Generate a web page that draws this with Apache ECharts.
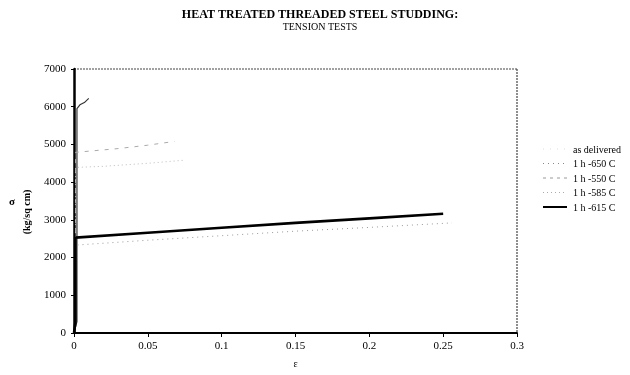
<!DOCTYPE html>
<html>
<head>
<meta charset="utf-8">
<script src="https://cdn.jsdelivr.net/npm/echarts@6/dist/echarts.min.js"></script>
<style>
  html, body { margin: 0; padding: 0; background: #fff; }
  #chart { width: 630px; height: 375px; }
</style>
</head>
<body>
<div id="chart"></div>
<script>
// strain / stress data
const seriesNames = ['as delivered', '1 h -650 C', '1 h -550 C', '1 h -585 C', '1 h -615 C']
const asDelivered = [[0, 0], [0.002, 300], [0.002, 5950], [0.004, 6050], [0.007, 6110], [0.010, 6220]]
const h650 = [[0, 0], [0.001, 300], [0.001, 2330], [0.05, 2460], [0.1, 2580], [0.15, 2700], [0.2, 2800], [0.256, 2920]]
const h550 = [[0, 0], [0.001, 300], [0.001, 4790], [0.03, 4890], [0.05, 4980], [0.068, 5080]]
const h585 = [[0, 0], [0.001, 300], [0.001, 4390], [0.02, 4420], [0.05, 4500], [0.074, 4580]]
const h615 = [[0, 0], [0.001, 300], [0.001, 2530], [0.05, 2660], [0.1, 2790], [0.15, 2920], [0.2, 3040], [0.25, 3160]]

const chart = echarts.init(document.getElementById('chart'))
const serif = 'Liberation Serif'

const lineStyles = [
  { color: '#333', width: 1.2, type: 'solid' },
  { color: '#999', width: 1, type: [1, 4] },
  { color: '#aaa', width: 1, type: [4, 6] },
  { color: '#bbb', width: 1, type: [1, 3] },
  { color: '#000', width: 2.6, type: 'solid' }
]
const legendStyles = [
  { color: '#ddd', width: 1, type: [1, 6] },
  { color: '#888', width: 1, type: [1, 4] },
  { color: '#999', width: 1, type: [3, 4] },
  { color: '#aaa', width: 1, type: [1, 3] },
  { color: '#000', width: 2, type: 'solid' }
]
const datasets = [asDelivered, h650, h550, h585, h615]

// legend samples drawn in the style of each series
const legendLines = seriesNames.map((n, i) => ({
  type: 'line',
  shape: { x1: 543, y1: 149 + i * 14.5, x2: 567, y2: 149 + i * 14.5 },
  style: {
    stroke: legendStyles[i].color,
    lineWidth: legendStyles[i].width,
    lineDash: legendStyles[i].type === 'solid' ? null : legendStyles[i].type
  }
}))

chart.setOption({
  animation: false,
  title: {
    text: 'HEAT TREATED THREADED STEEL STUDDING:',
    subtext: 'TENSION TESTS',
    left: 315,
    textAlign: 'center',
    top: 4,
    itemGap: 1,
    textStyle: { fontFamily: serif, fontWeight: 'bold', fontSize: 12, color: '#000' },
    subtextStyle: { fontFamily: serif, fontSize: 10, color: '#000' }
  },
  legend: {
    orient: 'vertical',
    left: 543,
    top: 140,
    itemGap: 4.5,
    itemWidth: 20,
    itemHeight: 10,
    textStyle: { fontFamily: serif, fontSize: 10, color: '#000' },
    data: seriesNames.map(n => ({ name: n, icon: 'none' }))
  },
  grid: { left: 74, right: 113, top: 69, bottom: 42 },
  xAxis: {
    type: 'value',
    min: 0,
    max: 0.3,
    interval: 0.05,
    name: 'ε',
    nameLocation: 'middle',
    nameGap: 26,
    nameTextStyle: { fontFamily: serif, fontSize: 10, color: '#000' },
    axisLine: { show: true, lineStyle: { color: '#000', width: 2 } },
    axisTick: { show: true, length: 4, lineStyle: { color: '#000' } },
    axisLabel: { fontFamily: serif, fontSize: 11, color: '#000', formatter: v => String(+v.toFixed(2)) },
    splitLine: { show: false }
  },
  yAxis: {
    type: 'value',
    min: 0,
    max: 7000,
    interval: 1000,
    axisLine: { show: true, lineStyle: { color: '#000', width: 2.5 } },
    axisTick: { show: true, length: 3, lineStyle: { color: '#000' } },
    axisLabel: { fontFamily: serif, fontSize: 11, color: '#000', margin: 8, formatter: v => String(v) },
    splitLine: { show: false }
  },
  graphic: [
    // dotted top and right frame of plot area
    { type: 'line', shape: { x1: 74, y1: 69, x2: 517, y2: 69 }, style: { stroke: '#444', lineWidth: 1.2, lineDash: [2, 1] } },
    { type: 'line', shape: { x1: 517, y1: 69, x2: 517, y2: 333 }, style: { stroke: '#444', lineWidth: 1.2, lineDash: [2, 1] } },
    { type: 'text', left: 9, top: 197, style: { text: 'σ', font: 'bold 11px "Liberation Serif"', fill: '#000' } },
    { type: 'text', x: 27, y: 212, rotation: Math.PI / 2, style: { text: '(kg/sq cm)', font: 'bold 10px "Liberation Serif"', fill: '#000', align: 'center', verticalAlign: 'middle' } }
  ].concat(legendLines),
  series: datasets.map((d, i) => ({
    name: seriesNames[i],
    type: 'line',
    data: d,
    showSymbol: false,
    symbol: 'none',
    lineStyle: lineStyles[i],
    itemStyle: { color: lineStyles[i].color }
  }))
})
</script>
</body>
</html>
